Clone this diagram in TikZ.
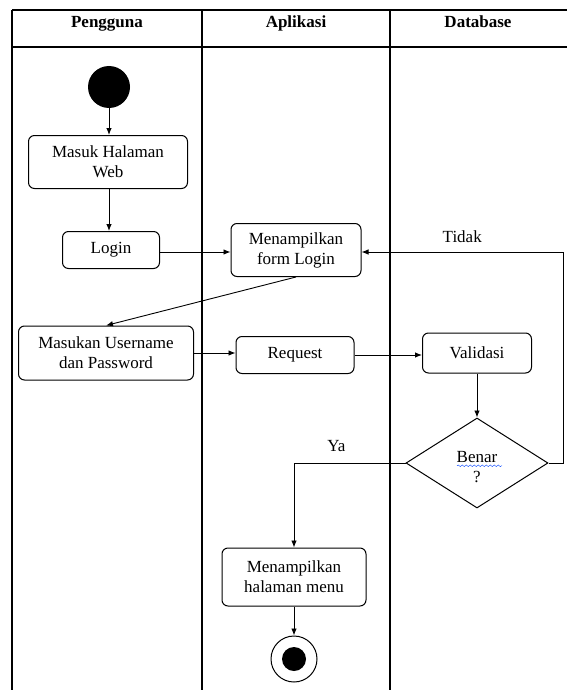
\documentclass[tikz,border=0pt]{standalone}
\usepackage{fontspec}
\setmainfont{Liberation Serif}
\usetikzlibrary{arrows.meta, calc, positioning, shapes.geometric, decorations.pathmorphing}

\newcommand{\Schrift}{\fontsize{17}{20}\selectfont}	%Ukuran huruf semua teks

\begin{document}
\begin{tikzpicture}
			[
			x=1pt, y=-1pt,																	%1 satuan = 1 piksel, y ke bawah
			Aktivitas/.style={draw, rounded corners=6pt, line width=1pt, align=center, font=\Schrift},	%Kotak aktivitas
			Keputusan/.style={draw, diamond, aspect=1.6, inner sep=0pt, line width=1pt, minimum width=142pt, minimum height=90pt},	%Belah ketupat
			Mulai/.style={circle, fill=black, minimum size=42pt, inner sep=0pt},			%Titik awal
			SelesaiLuar/.style={circle, draw, line width=1pt, minimum size=46pt, inner sep=0pt},	%Titik akhir (lingkaran luar)
			SelesaiDalam/.style={circle, fill=black, minimum size=24pt, inner sep=0pt},		%Titik akhir (isi)
			Panah/.style={-{Latex[length=7pt, width=5.5pt]}, line width=0.9pt},			%Panah alur
			Garis/.style={line width=1.5pt},												%Garis tabel
			Judul/.style={font=\Schrift\bfseries, anchor=base},							%Judul kolom
			Label/.style={font=\Schrift, align=center}										%Tulisan Ya / Tidak / Benar
			]
			
			%% Ukuran tabel %%
			\def\Atas{10};		%Garis atas
			\def\Kepala{47};	%Garis bawah kepala tabel
			\def\Bawah{690};	%Ujung bawah kolom
			\def\Kanan{567};	%Ujung kanan
			
			\useasboundingbox (0,0) rectangle (\Kanan,\Bawah);
			
			%%%%%%%%%%%%%%%%%%%%%%%%%% Tabel swimlane %%%%%%%%%%%%%%%%%%%%%%%%%%%%%%%
			\draw[Garis] (12,\Atas) -- (\Kanan,\Atas);
			\draw[Garis] (12,\Kepala) -- (\Kanan,\Kepala);
			\foreach \x in {12,202,390}
				\draw[Garis] (\x,\Atas) -- (\x,\Bawah);
			\node[Judul] (pengguna) at (107,28) {Pengguna};
			\node[Judul] (aplikasi) at (296,28) {Aplikasi};
			\node[Judul] (database) at (478,28) {Database};
			
			%%%%%%%%%%%%%%%%%%%%%%%%%% Aktivitas %%%%%%%%%%%%%%%%%%%%%%%%%%%%%%%
			\node[Mulai] (mulai) at (109,87) {};
			\node[Aktivitas, minimum width=159pt, minimum height=53pt] (masuk) at (108,162) {Masuk Halaman\\Web};
			\node[Aktivitas, minimum width=97pt, minimum height=37pt] (login) at (111,250) {Login};
			\node[Aktivitas, minimum width=130pt, minimum height=53pt] (formlogin) at (296,250) {Menampilkan\\form Login};
			\node[Aktivitas, minimum width=175pt, minimum height=54pt] (masukan) at (106,353) {Masukan Username\\dan Password};
			\node[Aktivitas, minimum width=118pt, minimum height=37pt] (request) at (295,355) {Request};
			\node[Aktivitas, minimum width=109pt, minimum height=40pt] (validasi) at (477,353) {Validasi};
			\node[Keputusan] (benar) at (477,463) {};
			\node[Label] (benarteks) at (477,467) {Benar\\?};
			\node[Aktivitas, minimum width=144pt, minimum height=58pt] (menu) at (294,577) {Menampilkan\\halaman menu};
			\node[SelesaiLuar] (selesai) at (294,659) {};
			\node[SelesaiDalam] (selesaiisi) at (selesai) {};
			\coordinate (tidaksudut) at (563,252);		%Sudut kanan atas jalur "Tidak"
			
			% garis bergelombang biru di bawah "Benar"
			\draw[blue!75!cyan, decorate, decoration={snake, amplitude=0.8pt, segment length=4pt}] ($(benarteks.north)+(-20,18)$) -- ($(benarteks.north)+(25,18)$);
			
			%%%%%%%%%%%%%%%%%%%%%%%%%% Alur %%%%%%%%%%%%%%%%%%%%%%%%%%%%%%%
			\draw[Panah] (mulai) -- (masuk.north -| mulai);
			\draw[Panah] (masuk.south -| mulai) -- (login.north -| mulai);
			\draw[Panah] (login.east |- 0,252) -- (formlogin.west |- 0,252);
			\draw[Panah] (formlogin.south) -- (masukan.north);
			\draw[Panah] (masukan) -- (masukan -| request.west);
			\draw[Panah] (request) -- (request -| validasi.west);
			\draw[Panah] (validasi) -- (benar);
			\draw[Panah] (benar.east) -| (tidaksudut) -- (tidaksudut -| formlogin.east)
				node[Label, pos=0.5, above=6pt] (tidak) {Tidak};		%Jawaban salah
			\draw[Panah] (benar.west) -| (menu.north)
				node[Label, pos=0.31, above=8pt] (ya) {Ya};				%Jawaban benar
			\draw[Panah] (menu) -- (selesai);
		\end{tikzpicture}
\end{document}
